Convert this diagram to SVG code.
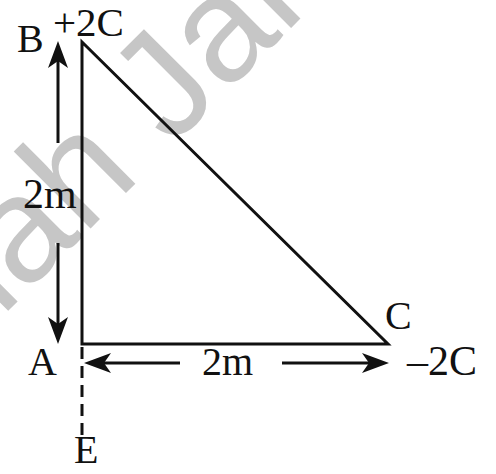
<svg xmlns="http://www.w3.org/2000/svg" width="496" height="474" viewBox="0 0 496 474">
  <style>
    .wm { font-family: "Liberation Sans", Arial, sans-serif; font-size: 150px; fill: #c6c6c6; }
    .lbl { font-family: "Liberation Serif", "Times New Roman", serif; font-size: 40px; fill: #111; }
    .edge { fill: none; stroke: #111; stroke-width: 3; }
    .arr { fill: none; stroke: #111; stroke-width: 3; marker-end: url(#head); }
  </style>
  <defs>
    <marker id="head" markerUnits="userSpaceOnUse" markerWidth="30" markerHeight="24" viewBox="0 -12 30 24" refX="14" refY="0" orient="auto">
      <path d="M27,0 L0,-10 L7,0 L0,10 Z" fill="#111"/>
    </marker>
  </defs>
  <rect width="496" height="474" fill="#fff"/>
  <g id="watermark" transform="translate(239,80) rotate(-45)">
    <text class="wm" x="-487" y="0">Shah Jahan</text>
  </g>
  <g id="connectors">
    <path class="edge" d="M82,42 L82,344 L388,344 Z"/>
    <line class="edge" x1="82" y1="347" x2="82" y2="440" stroke-dasharray="12 7"/>
    <line class="arr" x1="58" y1="143" x2="58" y2="54"/>
    <line class="arr" x1="58" y1="243" x2="58" y2="331"/>
    <line class="arr" x1="180" y1="363" x2="97" y2="363"/>
    <line class="arr" x1="282" y1="363" x2="376" y2="363"/>
  </g>
  <g id="node-B">
    <text class="lbl" x="17" y="52">B</text>
    <text class="lbl" x="53" y="36" style="font-size:41px">+2C</text>
  </g>
  <g id="node-A">
    <text class="lbl" x="28" y="375">A</text>
  </g>
  <g id="node-C">
    <text class="lbl" x="385" y="329">C</text>
    <text class="lbl" x="407" y="375" style="font-size:42px">–2C</text>
  </g>
  <g id="node-E">
    <text class="lbl" x="74" y="463">E</text>
  </g>
  <g id="labels">
    <text class="lbl" x="23" y="208" style="font-size:42px">2m</text>
    <text class="lbl" x="202" y="375">2m</text>
  </g>
</svg>
